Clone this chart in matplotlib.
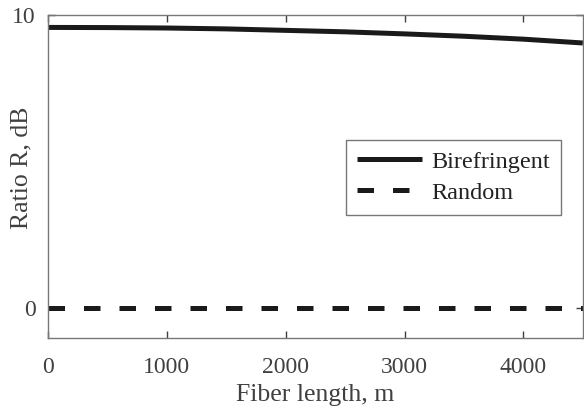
import matplotlib.pyplot as plt

plt.rcParams['font.family'] = ['Liberation Serif', 'DejaVu Serif']

# Data
fiber_length = [0, 500, 1000, 1500, 2000, 2500, 3000, 3500, 4000, 4500]
birefringent = [9.57, 9.565, 9.55, 9.52, 9.47, 9.42, 9.35, 9.27, 9.17, 9.04]
random_fiber = [0, 0, 0, 0, 0, 0, 0, 0, 0, 0]

x_ticks = [0, 1000, 2000, 3000, 4000]
y_ticks = [0, 10]

gray = '#404040'

fig = plt.figure(figsize=(5.84, 4.11), dpi=100)
ax = fig.add_axes([0.082, 0.178, 0.916, 0.786])

ax.plot(fiber_length, birefringent, color='#1a1a1a', lw=3.6, label='Birefringent',
        solid_capstyle='butt')
ax.plot(fiber_length, random_fiber, color='#1a1a1a', lw=3.6, label='Random',
        dashes=(3.3, 3.8), dash_capstyle='butt')

ax.set_xlim(0, 4500)
ax.set_ylim(-1, 10)
ax.set_xticks(x_ticks)
ax.set_yticks(y_ticks)
ax.tick_params(direction='in', length=5, width=1, colors=gray, labelsize=17,
               top=True, right=True)
ax.tick_params(axis='x', pad=14)
ax.tick_params(axis='y', pad=9)
for s in ax.spines.values():
    s.set_color('#777777')
    s.set_linewidth(1)

ax.set_xlabel('Fiber length, m', fontsize=18.5, color=gray, labelpad=4)
ax.set_ylabel('Ratio R, dB', fontsize=18.5, color=gray)
ax.yaxis.set_label_coords(-0.028, 0.525)

leg = ax.legend(loc='upper left', bbox_to_anchor=(0.557, 0.613), fontsize=17.5,
                frameon=True, fancybox=False, edgecolor='#555555',
                handlelength=2.7, handletextpad=0.35, borderpad=0.45,
                labelspacing=0.37, borderaxespad=0)
leg.get_frame().set_linewidth(1)
for t in leg.get_texts():
    t.set_color('#222222')

fig.savefig('out.png', dpi=100)
